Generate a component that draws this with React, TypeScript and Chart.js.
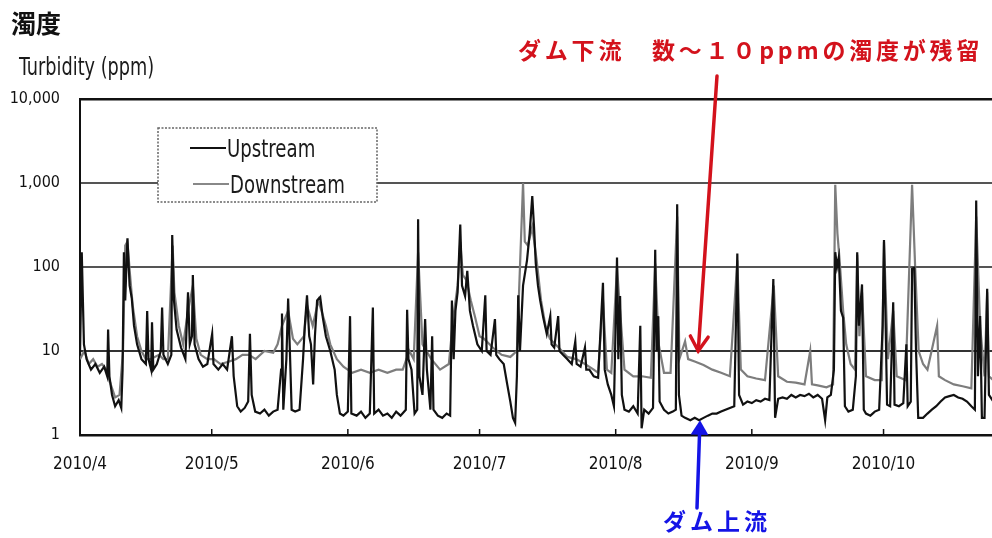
import React, { useEffect, useRef } from "react";
import { Chart, registerables } from "chart.js";

Chart.register(...registerables);

// ---- data ----
const monthStartDays = [0, 30, 61, 91, 122, 153, 183];
const monthLabels = ["2010/4", "2010/5", "2010/6", "2010/7", "2010/8", "2010/9", "2010/10"];
const yTickValues = [1, 10, 100, 1000, 10000];
const seriesNames = ["Upstream", "Downstream"];
const chartTitle = "濁度";
const yAxisTitle = "Turbidity (ppm)";
const downstreamNote = "ダム下流　数～１０ppmの濁度が残留";
const upstreamNote = "ダム上流";

// [day since 2010/4/1, turbidity ppm]
const upstreamPoints: [number, number][] = [
  [0, 9], [0.4, 150], [0.9, 12], [1.5, 8], [2.5, 6], [3.5, 7], [4.5, 5.5], [5.5, 6.5], [6.2, 5], [6.4, 18], [6.7, 5],
  [7.3, 3], [8.0, 2.2], [8.8, 2.6], [9.4, 2.1], [9.7, 6], [10.0, 150], [10.3, 40], [10.8, 220], [11.3, 60], [11.8, 42],
  [12.3, 20], [13, 12], [14, 8], [15, 7], [15.3, 30], [15.6, 8], [16.2, 6], [16.4, 22], [16.7, 6], [17.5, 7], [18.4, 10],
  [18.7, 33], [19.0, 9], [20, 7], [20.8, 9], [21.0, 240], [21.4, 40], [22, 18], [23, 11], [24, 8], [24.6, 50], [25, 12],
  [25.5, 15], [25.7, 80], [26.1, 12], [27, 8], [28, 6.5], [29, 7], [30.1, 16], [30.4, 7], [31.5, 6], [32.5, 7], [33.5, 6],
  [34.6, 15], [35.0, 5], [35.8, 2.2], [36.6, 1.9], [37.5, 2.1], [38.3, 2.5], [38.7, 16], [39.1, 3], [39.9, 1.9], [41, 1.8],
  [42, 2.0], [43, 1.7], [44, 1.9], [45, 2.0], [45.8, 6], [46.0, 28], [46.3, 2], [47, 8], [47.4, 42], [47.8, 10], [48.2, 2],
  [49, 1.9], [50, 2.0], [50.8, 8], [51.2, 20], [51.7, 46], [52.2, 15], [52.6, 12], [53.1, 4], [53.5, 15], [54.0, 40],
  [54.7, 44], [55.3, 25], [56, 15], [57, 10], [58, 6], [58.5, 3], [59.2, 1.8], [60, 1.7], [61, 1.9], [61.5, 26], [61.8, 1.8],
  [63, 1.7], [64, 1.9], [65, 1.6], [66, 1.8], [66.7, 33], [67.0, 1.8], [68, 2.0], [69, 1.7], [70, 1.8], [71, 1.6], [72, 1.9],
  [73, 1.7], [74.2, 2], [74.5, 31], [74.8, 8], [75.5, 6], [76.2, 1.8], [76.8, 2], [77.0, 370], [77.3, 5], [78, 3], [78.6, 24],
  [79.0, 6], [79.8, 2], [80.2, 15], [80.5, 2], [81.5, 1.7], [82.5, 1.6], [83.5, 1.8], [84.3, 1.7], [84.7, 40], [85.1, 8],
  [85.5, 30], [86, 50], [86.6, 320], [87, 60], [87.7, 45], [88.2, 90], [88.8, 30], [89.5, 20], [90.5, 12], [91.5, 10],
  [92.3, 46], [92.6, 10], [93.5, 9], [94.5, 24], [94.8, 9], [95.5, 8], [96.5, 7], [97.3, 4], [98, 2.5], [98.6, 1.6],
  [99.1, 1.4], [99.5, 5], [99.8, 46], [100.2, 10], [100.9, 60], [101.8, 120], [102.4, 250], [103.0, 700], [103.4, 300],
  [103.8, 110], [104.3, 60], [104.8, 40], [105.5, 25], [106.3, 16], [107.1, 26], [107.4, 12], [108, 11], [108.9, 26],
  [109.2, 10], [110, 9], [111, 8], [112, 7], [112.8, 13], [113.1, 7], [114, 6.5], [115, 11], [115.3, 6], [116, 6], [117, 5],
  [118, 4.8], [119.1, 65], [119.5, 6], [120.2, 4], [121, 3], [121.6, 2.2], [122.3, 130], [122.6, 8], [123.0, 45], [123.4, 3],
  [124, 2.0], [125, 1.9], [126, 2.2], [127, 1.8], [127.6, 20], [127.9, 1.2], [128.5, 2], [129.5, 1.8], [130.5, 2.1],
  [131.0, 160], [131.3, 10], [131.7, 26], [132.0, 2.5], [133, 2.0], [134, 1.8], [135, 1.9], [135.7, 2], [136.0, 560],
  [136.4, 3], [137, 1.7], [137.8, 1.6], [139, 1.5], [140, 1.6], [141, 1.5], [142, 1.6], [143, 1.7], [144, 1.8], [145, 1.8],
  [146, 1.9], [147, 2.0], [148, 2.1], [149, 2.2], [149.7, 145], [150.1, 3], [151, 2.3], [152, 2.5], [153, 2.4], [154, 2.6],
  [155, 2.5], [156, 2.7], [157, 2.6], [157.9, 72], [158.3, 1.6], [159, 2.7], [160, 2.8], [161, 2.7], [162, 3.0], [163, 2.8],
  [164, 3.0], [165, 2.9], [166, 3.1], [167, 2.8], [168, 3.0], [169, 2.7], [169.7, 1.5], [170.2, 2.8], [171, 3.0],
  [171.7, 6], [172.0, 150], [172.4, 100], [172.8, 130], [173.3, 30], [173.8, 25], [174.2, 2.2], [175, 1.9], [176, 2.0],
  [176.7, 5], [177.0, 150], [177.4, 20], [178.1, 62], [178.5, 2], [179, 1.8], [180, 1.7], [181, 1.9], [182, 2.0],
  [182.8, 20], [183.1, 210], [183.5, 18], [183.8, 2.3], [184.5, 2.2], [185.2, 38], [185.5, 2.3], [186.5, 2.2], [187.5, 2.4],
  [188.2, 12], [188.5, 2.2], [189.2, 2.5], [189.5, 95], [190.0, 98], [190.4, 10], [190.9, 1.6], [192, 1.6], [193, 1.8],
  [194, 2.0], [195, 2.2], [196, 2.5], [197, 2.8], [198, 2.9], [199, 3.0], [200, 2.8], [201, 2.7], [202, 2.5], [203, 2.2],
  [203.8, 2], [204.1, 620], [204.5, 5], [205.0, 26], [205.4, 1.6], [206, 1.6], [206.6, 55], [207, 3], [208, 2.5],
];

const downstreamPoints: [number, number][] = [
  [0, 8], [1, 10], [2, 7], [3, 8], [4, 6.5], [5, 7], [6, 6], [7, 4], [8, 2.8], [9, 3], [9.8, 10], [10.3, 180], [10.8, 200],
  [11.4, 80], [12, 35], [13, 15], [14, 10], [15, 8], [16, 8], [17, 8.5], [18, 9], [19, 8], [20, 8], [21.1, 180], [21.5, 50],
  [22.5, 20], [23.5, 12], [24.6, 30], [25.7, 60], [26.5, 14], [27.5, 9], [29, 8], [30.5, 8], [32, 7], [34, 7.5], [35.5, 8],
  [37, 9], [38.5, 9], [40, 8], [42, 10], [44, 9.5], [45, 12], [46, 20], [47.4, 30], [48.5, 14], [49.5, 12], [51, 15],
  [51.7, 35], [53, 20], [54.3, 40], [55, 30], [56, 20], [57, 12], [58.5, 8], [60, 6.5], [62, 5.5], [64, 6], [66, 5.5],
  [68, 6], [70, 5.5], [72, 6], [73.5, 6], [75, 10], [76, 8], [77.0, 150], [78, 12], [80, 8], [82, 6], [84, 7], [85, 25],
  [86, 60], [86.6, 200], [87.2, 80], [88, 70], [89, 40], [90, 25], [91, 15], [92, 14], [94, 11], [96, 9], [98, 8.5],
  [99.5, 10], [100.9, 1000], [101.3, 200], [102, 180], [103, 300], [104, 120], [105, 40], [106, 20], [107, 14], [109, 11],
  [111, 8.5], [113, 8], [115, 7], [117, 6], [118, 5.5], [119.1, 40], [120, 6], [121, 5.5], [122.3, 100], [123, 30], [124, 6],
  [126, 5], [128, 5], [130, 4.8], [131, 110], [131.8, 12], [133, 5.5], [134.5, 5.5], [136, 400], [136.5, 8], [137.8, 13],
  [138.5, 8], [140, 7.5], [142, 6.8], [144, 6], [146, 5.5], [148, 5], [149.7, 120], [150.5, 6], [152, 5], [154, 4.7],
  [156, 4.5], [158, 60], [159, 5], [161, 4.3], [163, 4.2], [165, 4], [166.3, 10], [166.7, 4], [168, 3.9], [170, 3.7],
  [171.5, 4], [172, 950], [172.5, 250], [173, 120], [173.8, 30], [174.5, 12], [175.5, 7], [176.5, 6], [177, 140],
  [177.5, 15], [178.1, 50], [179, 5], [181, 4.5], [182.6, 4.5], [183.1, 200], [184, 8], [185.2, 30], [186, 5], [188, 4.5],
  [189.5, 950], [190.2, 100], [191, 10], [192, 7], [193, 6], [195.2, 20], [195.6, 5], [197, 4.5], [199, 4], [201, 3.8],
  [203, 3.6], [204.1, 400], [205, 20], [206, 5], [206.6, 50], [207, 5], [208, 4.5],
];

const NARROW = '"Liberation Sans Narrow", "DejaVu Sans Condensed", "Liberation Sans", sans-serif';
const CJK = '"Noto Sans CJK JP", "Noto Sans CJK SC", sans-serif';

export default function App() {
  const canvasRef = useRef<HTMLCanvasElement>(null);

  useEffect(() => {
    if (!canvasRef.current) return;

    const overlay = {
      id: "overlay",
      afterDraw(chart: any) {
        const { ctx, chartArea, scales } = chart;
        const xs = scales.x;
        const ys = scales.y;
        ctx.save();
        // inner month tick marks
        ctx.strokeStyle = "#111";
        ctx.lineWidth = 1.5;
        monthStartDays.slice(1).forEach((d) => {
          const px = xs.getPixelForValue(d);
          ctx.beginPath();
          ctx.moveTo(px, chartArea.bottom);
          ctx.lineTo(px, chartArea.bottom - 6);
          ctx.stroke();
        });

        // legend box
        const lx = chartArea.left + 78;
        const ly = chartArea.top + 29;
        const lw = 219;
        const lh = 74;
        ctx.fillStyle = "#ffffff";
        ctx.fillRect(lx, ly, lw, lh);
        ctx.strokeStyle = "#666";
        ctx.lineWidth = 1.5;
        ctx.setLineDash([2, 1.5]);
        ctx.strokeRect(lx, ly, lw, lh);
        ctx.setLineDash([]);
        const colors = ["#111111", "#888888"];
        seriesNames.forEach((name, i) => {
          const yy = ly + 20 + i * 36;
          ctx.strokeStyle = colors[i];
          ctx.lineWidth = 2;
          ctx.beginPath();
          ctx.moveTo(lx + 32 + i * 3, yy);
          ctx.lineTo(lx + 68 + i * 3, yy);
          ctx.stroke();
          ctx.save();
          ctx.translate(lx + 69 + i * 3, yy + 3);
          ctx.scale(0.84, 1);
          ctx.fillStyle = "#1a1a1a";
          ctx.font = `24px ${NARROW}`;
          ctx.textBaseline = "middle";
          ctx.textAlign = "left";
          ctx.fillText(name, 0, 0);
          ctx.restore();
        });

        // arrows
        const drawArrow = (x0: number, y0: number, x1: number, y1: number, color: string, filled: boolean) => {
          const ang = Math.atan2(y1 - y0, x1 - x0);
          ctx.strokeStyle = color;
          ctx.fillStyle = color;
          ctx.lineWidth = 3.5;
          ctx.lineCap = "round";
          const hl = 17;
          const endX = filled ? x1 - Math.cos(ang) * hl * 0.8 : x1;
          const endY = filled ? y1 - Math.sin(ang) * hl * 0.8 : y1;
          ctx.beginPath();
          ctx.moveTo(x0, y0);
          ctx.lineTo(endX, endY);
          ctx.stroke();
          const a1 = ang + Math.PI - 0.55;
          const a2 = ang + Math.PI + 0.55;
          if (filled) {
            ctx.beginPath();
            ctx.moveTo(x1, y1);
            ctx.lineTo(x1 + Math.cos(a1) * hl, y1 + Math.sin(a1) * hl);
            ctx.lineTo(x1 + Math.cos(a2) * hl, y1 + Math.sin(a2) * hl);
            ctx.closePath();
            ctx.fill();
          } else {
            ctx.beginPath();
            ctx.moveTo(x1 + Math.cos(a1) * hl, y1 + Math.sin(a1) * hl);
            ctx.lineTo(x1, y1);
            ctx.lineTo(x1 + Math.cos(a2) * hl, y1 + Math.sin(a2) * hl);
            ctx.stroke();
          }
        };
        const redTipX = xs.getPixelForValue(140.8);
        const redTipY = ys.getPixelForValue(10);
        drawArrow(717, 76, redTipX, redTipY, "#d3121c", false);
        const blueTipX = xs.getPixelForValue(141.2);
        const blueTipY = ys.getPixelForValue(1.5);
        drawArrow(697, 508, blueTipX, blueTipY, "#1414e6", true);
        ctx.restore();
      },
    };

    const chart = new Chart(canvasRef.current, {
      type: "line",
      data: {
        datasets: [
          {
            label: seriesNames[0],
            data: upstreamPoints.map(([x, y]) => ({ x, y })),
            borderColor: "#111111",
            borderWidth: 2.2,
            pointRadius: 0,
            tension: 0,
            order: 0,
          },
          {
            label: seriesNames[1],
            data: downstreamPoints.map(([x, y]) => ({ x, y })),
            borderColor: "#7d7d7d",
            borderWidth: 2.2,
            pointRadius: 0,
            tension: 0,
            order: 1,
          },
        ],
      },
      options: {
        animation: false,
        responsive: true,
        maintainAspectRatio: false,
        layout: { padding: { top: 99, left: 0, right: 0, bottom: 0 } },
        plugins: { legend: { display: false }, tooltip: { enabled: false } },
        scales: {
          x: {
            type: "linear",
            min: 0,
            max: 207.7,
            afterFit: (s: any) => {
              s.height = 103;
            },
            afterBuildTicks: (s: any) => {
              s.ticks = monthStartDays.map((v) => ({ value: v }));
            },
            ticks: {
              autoSkip: false,
              maxRotation: 0,
              padding: 19,
              color: "#111",
              font: { family: NARROW, size: 17 },
              callback: (_v: any, i: number) => monthLabels[i],
            },
            grid: { display: false, drawTicks: false },
            border: { display: true, color: "#111", width: 2.5 },
          },
          y: {
            type: "logarithmic",
            min: 1,
            max: 10000,
            afterFit: (s: any) => {
              s.width = 80;
            },
            afterBuildTicks: (s: any) => {
              s.ticks = yTickValues.map((v) => ({ value: v }));
            },
            ticks: {
              padding: 20,
              color: "#111",
              font: { family: NARROW, size: 16 },
              callback: (v: any) => Number(v).toLocaleString("en-US"),
            },
            grid: {
              drawTicks: false,
              color: (c: any) => {
                const v = c.tick && c.tick.value;
                if (v === 10000 || v === 1) return "#111";
                if (v === 10) return "#333";
                return "#555";
              },
              lineWidth: (c: any) => {
                const v = c.tick && c.tick.value;
                if (v === 10000) return 2.5;
                return 2;
              },
            },
            border: { display: true, color: "#111", width: 2 },
          },
        },
      },
      plugins: [overlay],
    });

    return () => chart.destroy();
  }, []);

  return (
    <div style={{ position: "absolute", left: 0, top: 0, width: 992, height: 538, background: "#fff", overflow: "hidden" }}>
      <canvas ref={canvasRef} />
      <div style={{ position: "absolute", left: 11, top: 10, font: `bold 25px ${CJK}`, lineHeight: 1, color: "#111" }}>
        {chartTitle}
      </div>
      <div style={{ position: "absolute", left: 19, top: 55, font: `24px ${NARROW}`, lineHeight: 1, color: "#1a1a1a", whiteSpace: "nowrap", transform: "scaleX(0.82)", transformOrigin: "left top" }}>
        {yAxisTitle}
      </div>
      <div style={{ position: "absolute", left: 518, top: 38, font: `bold 23px ${CJK}`, lineHeight: 1, letterSpacing: 3.8, color: "#d3121c", whiteSpace: "nowrap" }}>
        {downstreamNote}
      </div>
      <div style={{ position: "absolute", left: 663, top: 509, font: `bold 23px ${CJK}`, lineHeight: 1, letterSpacing: 4, color: "#1414e6", whiteSpace: "nowrap" }}>
        {upstreamNote}
      </div>
    </div>
  );
}
